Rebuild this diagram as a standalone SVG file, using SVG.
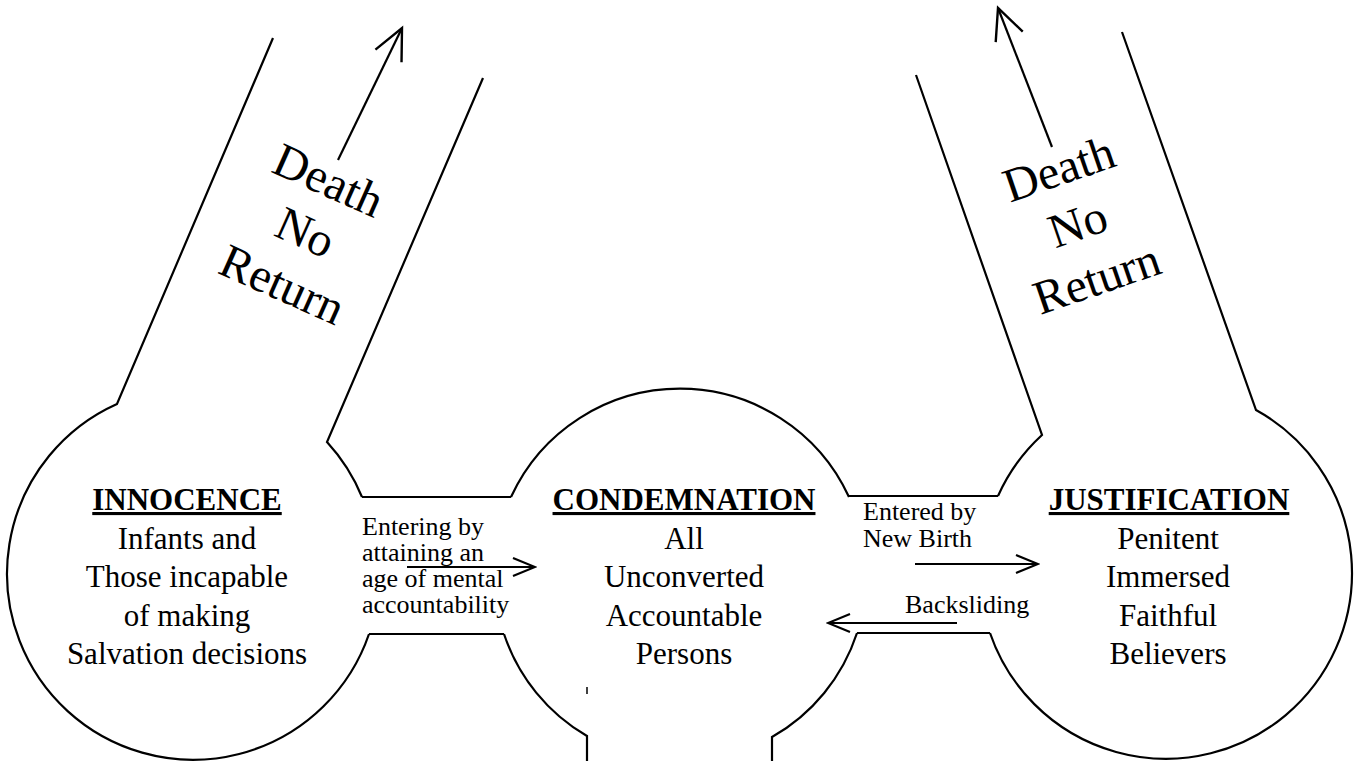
<svg xmlns="http://www.w3.org/2000/svg" width="1357" height="761" viewBox="0 0 1357 761">
<style>
.outline{fill:none;stroke:#000;stroke-width:2.2;stroke-linejoin:miter}
.conn{fill:none;stroke:#000;stroke-width:2.2}
.t{font-family:"Liberation Serif","Times New Roman",serif;fill:#000;text-anchor:middle;font-size:31px}
.title{font-weight:bold;text-decoration:underline}
.small{font-family:"Liberation Serif","Times New Roman",serif;font-size:26px;fill:#000}
.death{font-family:"Liberation Serif","Times New Roman",serif;font-size:48px;fill:#000;text-anchor:middle}
</style>
<defs>
<marker id="ah" markerUnits="userSpaceOnUse" orient="auto" viewBox="-26 -12 28 24" markerWidth="28" markerHeight="24" refX="0" refY="0">
<path d="M-22,-9 L0,0 L-22,9" fill="none" stroke="#000" stroke-width="2.2"/>
</marker>
<marker id="ahL" markerUnits="userSpaceOnUse" orient="auto" viewBox="-34 -18 38 36" markerWidth="38" markerHeight="36" refX="0" refY="0">
<path d="M-31,-14.5 L0,0 L-31,14.5" fill="none" stroke="#000" stroke-width="2.4"/>
</marker>
</defs>
<rect width="1357" height="761" fill="#fff"/>

<g id="innocence">
<path class="outline" d="M273,38 L117,404 A186,186 0 1 0 369,634"/>
<path class="outline" d="M483,78 L327,442 A186,186 0 0 1 362,497"/>
<text class="t title" x="187" y="510">INNOCENCE</text>
<text class="t" x="187" y="549">Infants and</text>
<text class="t" x="187" y="587">Those incapable</text>
<text class="t" x="187" y="626">of making</text>
<text class="t" x="187" y="664">Salvation decisions</text>
<text class="death" transform="translate(299,247) rotate(24)"><tspan x="0" y="-57">Death</tspan><tspan x="0" y="0">No</tspan><tspan x="0" y="57">Return</tspan></text>
</g>

<g id="condemnation">
<path class="outline" d="M511,497 A186,186 0 0 1 849,497"/>
<path class="outline" d="M504,634 A186,186 0 0 0 587,736 L587,761"/>
<path class="outline" d="M857,633 A186,186 0 0 1 772,737 L772,761"/>
<path class="outline" d="M587,687 L587,694" style="stroke-width:1.5"/>
<text class="t title" x="684" y="510">CONDEMNATION</text>
<text class="t" x="684" y="549">All</text>
<text class="t" x="684" y="587">Unconverted</text>
<text class="t" x="684" y="626">Accountable</text>
<text class="t" x="684" y="664">Persons</text>
</g>

<g id="justification">
<path class="outline" d="M916,75 L1042,435 A186,186 0 0 0 998,496"/>
<path class="outline" d="M1122,32 L1256,410 A186,186 0 1 1 990,633"/>
<text class="t title" x="1169" y="510">JUSTIFICATION</text>
<text class="t" x="1168" y="549">Penitent</text>
<text class="t" x="1168" y="587">Immersed</text>
<text class="t" x="1168" y="626">Faithful</text>
<text class="t" x="1168" y="664">Believers</text>
<text class="death" transform="translate(1083,239) rotate(-19)"><tspan x="0" y="-58">Death</tspan><tspan x="0" y="0">No</tspan><tspan x="0" y="58">Return</tspan></text>
</g>

<g id="channels">
<path class="outline" d="M362,497 L511,497"/>
<path class="outline" d="M369,634 L504,634"/>
<path class="outline" d="M849,496 L998,496"/>
<path class="outline" d="M857,633 L990,633"/>
</g>

<g id="connectors">
<line class="conn" x1="407" y1="567" x2="535" y2="567" marker-end="url(#ah)"/>
<line class="conn" x1="915" y1="564" x2="1038" y2="564" marker-end="url(#ah)"/>
<line class="conn" x1="957" y1="623" x2="828" y2="623" marker-end="url(#ah)"/>
<line class="conn" x1="338" y1="160" x2="402" y2="28" marker-end="url(#ahL)"/>
<line class="conn" x1="1052" y1="147" x2="998" y2="8" marker-end="url(#ahL)"/>
<text class="small" x="362" y="535">Entering by</text>
<text class="small" x="362" y="561">attaining an</text>
<text class="small" x="362" y="587">age of mental</text>
<text class="small" x="362" y="613">accountability</text>
<text class="small" x="863" y="520">Entered by</text>
<text class="small" x="863" y="547">New Birth</text>
<text class="small" x="905" y="613">Backsliding</text>
</g>
</svg>
